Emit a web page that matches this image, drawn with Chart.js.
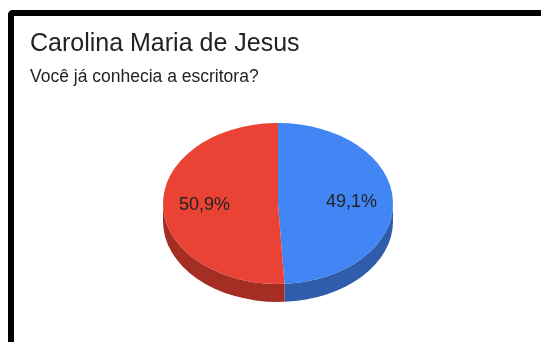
<!DOCTYPE html>
<html lang="pt">

<head>
  <meta charset="UTF-8" />
  <title>Carolina Maria de Jesus</title>
  <style>
    html,
    body {
      margin: 0;
      width: 541px;
      height: 342px;
      overflow: hidden;
      background: #fff;
      font-family: "Liberation Sans", Arial, sans-serif;
    }

    .frame {
      position: absolute;
      left: 8px;
      top: 10px;
      width: 600px;
      height: 400px;
      border-top: 6px solid #000;
      border-left: 6px solid #000;
      border-top-left-radius: 5px;
    }

    .chart_box {
      position: absolute;
      left: 0;
      top: 0;
      width: 541px;
      height: 342px;
    }
  </style>
  <script src="https://cdn.jsdelivr.net/npm/chart.js"></script>
</head>

<body>
  <div class="frame"></div>
  <div class="chart_box">
    <canvas id="piechart"></canvas>
  </div>
  <script>
    const categories = ['Sim', 'Não'];
    const values = [49.1, 50.9];
    const topColors = ['#4285f4', '#ea4335'];
    const sideColors = ['#2f5dab', '#a42d24'];

    const tilt = 0.7;   // vertical squash of the top face
    const depth = 18;   // thickness of the pie

    // visible front part of an arc (canvas angles 0..PI are the lower half)
    function frontPart(s, e) {
      const parts = [];
      for (let k = -1; k <= 1; k++) {
        const lo = Math.max(s, 0 + k * 2 * Math.PI);
        const hi = Math.min(e, Math.PI + k * 2 * Math.PI);
        if (hi > lo) parts.push([lo, hi]);
      }
      return parts;
    }

    const pie3d = {
      id: 'pie3d',
      beforeDatasetsDraw(chart) {
        const ctx = chart.ctx;
        const meta = chart.getDatasetMeta(0);
        meta.data.forEach((arc, i) => {
          const r = arc.outerRadius, ry = r * tilt;
          frontPart(arc.startAngle, arc.endAngle).forEach(([a1, a2]) => {
            ctx.beginPath();
            ctx.ellipse(arc.x, arc.y, r, ry, 0, a1, a2);
            ctx.ellipse(arc.x, arc.y + depth, r, ry, 0, a2, a1, true);
            ctx.closePath();
            ctx.fillStyle = sideColors[i];
            ctx.fill();
          });
        });
        const a = meta.data[0];
        ctx.save();
        ctx.translate(a.x, a.y);
        ctx.scale(1, tilt);
        ctx.translate(-a.x, -a.y);
      },
      afterDatasetsDraw(chart) {
        const ctx = chart.ctx;
        ctx.restore();
        const meta = chart.getDatasetMeta(0);
        const total = values.reduce((s, v) => s + v, 0);
        ctx.save();
        ctx.font = "18px 'Liberation Sans', Arial, sans-serif";
        ctx.fillStyle = '#222';
        ctx.textAlign = 'center';
        ctx.textBaseline = 'middle';
        meta.data.forEach((arc, i) => {
          const mid = (arc.startAngle + arc.endAngle) / 2;
          const d = arc.outerRadius * 0.64;
          const x = arc.x + Math.cos(mid) * d;
          const y = arc.y + Math.sin(mid) * d * tilt;
          const txt = (values[i] / total * 100).toFixed(1).replace('.', ',') + '%';
          ctx.fillText(txt, x, y);
        });
        ctx.restore();
      }
    };

    var chart = new Chart('piechart', {
      type: 'pie',
      data: {
        labels: categories,
        datasets: [{
          data: values,
          backgroundColor: topColors,
          borderWidth: 0
        }]
      },
      options: {
        responsive: true,
        maintainAspectRatio: false,
        animation: false,
        layout: {
          padding: { top: 19, left: 30, right: 15, bottom: 23.5 }
        },
        plugins: {
          legend: { display: false },
          tooltip: { enabled: false },
          title: {
            display: true,
            text: 'Carolina Maria de Jesus',
            align: 'start',
            color: '#222',
            font: { family: "'Liberation Sans', Arial, sans-serif", size: 25, weight: 'normal' },
            padding: { top: 10, bottom: 0 }
          },
          subtitle: {
            display: true,
            text: 'Você já conhecia a escritora?',
            align: 'start',
            color: '#222',
            font: { family: "'Liberation Sans', Arial, sans-serif", size: 17.5, weight: 'normal' },
            padding: { top: 8, bottom: 0.5 }
          }
        }
      },
      plugins: [pie3d]
    });
  </script>
</body>

</html>
